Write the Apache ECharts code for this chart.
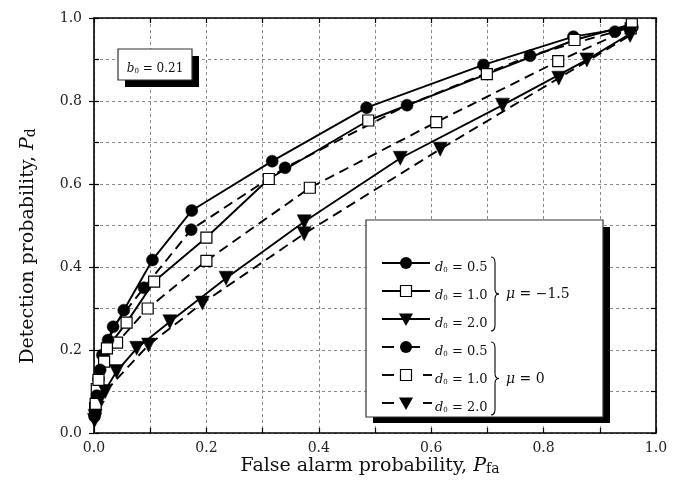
<!DOCTYPE html>
<html><head><meta charset="utf-8">
<script src="https://cdn.jsdelivr.net/npm/echarts@6/dist/echarts.min.js"></script>
<style>html,body{margin:0;padding:0;background:#fff}#c{width:686px;height:499px}</style>
</head><body><div id="c"></div>
<script>
// ---- data (Pfa, Pd) ----
const solidCircle = [[0.002,0.05],[0.005,0.09],[0.011,0.152],[0.025,0.224],[0.053,0.296],[0.104,0.417],[0.174,0.536],[0.317,0.655],[0.485,0.784],[0.693,0.887],[0.853,0.955],[0.955,0.978]];
const solidSquare = [[0.003,0.07],[0.008,0.128],[0.023,0.204],[0.058,0.266],[0.107,0.365],[0.200,0.471],[0.311,0.612],[0.488,0.753],[0.699,0.865],[0.855,0.947],[0.957,0.985]];
const solidTriangle = [[0.002,0.04],[0.012,0.085],[0.040,0.148],[0.076,0.204],[0.135,0.268],[0.235,0.373],[0.374,0.509],[0.545,0.662],[0.727,0.790],[0.877,0.899],[0.954,0.962]];
const dashCircle = [[0.001,0.04],[0.004,0.08],[0.008,0.13],[0.015,0.188],[0.034,0.256],[0.089,0.350],[0.173,0.490],[0.340,0.639],[0.557,0.790],[0.776,0.909],[0.927,0.967],[0.958,0.978]];
const dashSquare = [[0.002,0.06],[0.005,0.106],[0.018,0.172],[0.041,0.218],[0.0955,0.300],[0.200,0.415],[0.384,0.591],[0.609,0.749],[0.826,0.896],[0.955,0.975]];
const dashTriangle = [[0.001,0.03],[0.006,0.06],[0.020,0.10],[0.097,0.212],[0.193,0.313],[0.374,0.480],[0.616,0.684],[0.827,0.855],[0.954,0.958]];

const legendD0 = ['0.5','1.0','2.0','0.5','1.0','2.0'];
const legendSym = ['circle','rect','tri','circle','rect','tri'];
const legendDash = [false,false,false,true,true,true];
const muLabels = ['\u22121.5', '0'];
const b0Label = '0.21';
const xTitle = 'False alarm probability, ';
const yTitle = 'Detection probability, ';

const FONT = 'DejaVu Serif';
const DASH = [10,6];

function mk(name, data, sym, dashed){
  return {
    name, type:'line', data, xAxisIndex:0, yAxisIndex:0,
    symbol: sym === 'tri' ? 'triangle' : sym,
    symbolSize: sym === 'circle' ? 12 : (sym === 'rect' ? 11 : 14),
    symbolRotate: sym === 'tri' ? 180 : 0,
    showAllSymbol: true,
    lineStyle:{color:'#000', width:1.9, type: dashed ? DASH : 'solid'},
    itemStyle:{color: sym === 'rect' ? '#fff' : '#000', borderColor:'#000', borderWidth: sym==='rect'?1.2:0.5},
    emphasis:{disabled:true}, animation:false, z: 3
  };
}

const chart = echarts.init(document.getElementById('c'), null, {renderer:'canvas'});
const L = 94, T = 18, R = 656, B = 433;

const axisLineStyle = {color:'#000', width:1.6};
const split = {show:true, lineStyle:{color:'#8a8a8a', width:1, type:[3,3]}};

function braceParts(x0, top, bot){
  const mid = (top+bot)/2, w = 4, st = {stroke:'#000', lineWidth:1.1, fill:null};
  return [
    {type:'bezierCurve', shape:{x1:x0,y1:top,x2:x0+w,y2:top+6,cpx1:x0+w,cpy1:top}, style:st, z:103},
    {type:'line', shape:{x1:x0+w,y1:top+6,x2:x0+w,y2:mid-5}, style:st, z:103},
    {type:'bezierCurve', shape:{x1:x0+w,y1:mid-5,x2:x0+2*w,y2:mid,cpx1:x0+w,cpy1:mid}, style:st, z:103},
    {type:'bezierCurve', shape:{x1:x0+2*w,y1:mid,x2:x0+w,y2:mid+5,cpx1:x0+w,cpy1:mid}, style:st, z:103},
    {type:'line', shape:{x1:x0+w,y1:mid+5,x2:x0+w,y2:bot-6}, style:st, z:103},
    {type:'bezierCurve', shape:{x1:x0+w,y1:bot-6,x2:x0,y2:bot,cpx1:x0+w,cpy1:bot}, style:st, z:103}
  ];
}

function legendGraphics(){
  const g = [];
  g.push({type:'rect', shape:{x:373,y:227,width:237,height:196}, style:{fill:'#000'}, z:100});
  g.push({type:'rect', shape:{x:366,y:220,width:237,height:197}, style:{fill:'#fff', stroke:'#333', lineWidth:1.2}, z:101});
  const rows = [263,291,319,347,375,403];
  for(let i=0;i<6;i++){
    const y = rows[i], cx = 406;
    if(!legendDash[i]){
      g.push({type:'line', shape:{x1:382,y1:y,x2:430,y2:y}, style:{stroke:'#000', lineWidth:1.9}, z:102});
    } else {
      g.push({type:'line', shape:{x1:382,y1:y,x2:394,y2:y}, style:{stroke:'#000', lineWidth:1.9}, z:102});
      const s2 = legendSym[i]==='circle' ? 411 : 423;
      g.push({type:'line', shape:{x1:s2,y1:y,x2:s2+9,y2:y}, style:{stroke:'#000', lineWidth:1.9}, z:102});
    }
    if(legendSym[i]==='circle') g.push({type:'circle', shape:{cx, cy:y, r:6}, style:{fill:'#000'}, z:103});
    else if(legendSym[i]==='rect') g.push({type:'rect', shape:{x:cx-5.5,y:y-5.5,width:11,height:11}, style:{fill:'#fff', stroke:'#000', lineWidth:1.2}, z:103});
    else g.push({type:'polygon', shape:{points:[[cx-7,y-5.5],[cx+7,y-5.5],[cx,y+7]]}, style:{fill:'#000'}, z:103});
    g.push({type:'text', x:435, y:y, z:103, style:{
      text:'{i|d}{s|0}{r| = '+legendD0[i]+'}', verticalAlign:'middle', align:'left',
      rich:{ i:{fontFamily:FONT, fontStyle:'italic', fontSize:13, lineHeight:22, verticalAlign:'bottom', fill:'#111'},
             s:{fontFamily:FONT, fontSize:7, lineHeight:8, verticalAlign:'bottom', fill:'#111'},
             r:{fontFamily:FONT, fontSize:13, lineHeight:22, verticalAlign:'bottom', fill:'#111'} }
    }});
  }
  braceParts(491,257,331).forEach(e=>g.push(e));
  braceParts(491,342,415).forEach(e=>g.push(e));
  const muRich = {i:{fontFamily:FONT, fontStyle:'italic', fontSize:14, fill:'#111'}, r:{fontFamily:FONT, fontSize:14, fill:'#111'}};
  g.push({type:'text', x:506, y:294, z:103, style:{text:'{i|\u03bc}{r| = '+muLabels[0]+'}', verticalAlign:'middle', rich:muRich}});
  g.push({type:'text', x:506, y:379, z:103, style:{text:'{i|\u03bc}{r| = '+muLabels[1]+'}', verticalAlign:'middle', rich:muRich}});
  // b0 box
  g.push({type:'rect', shape:{x:125,y:56,width:74,height:31}, style:{fill:'#000'}, z:100});
  g.push({type:'rect', shape:{x:118,y:49,width:74,height:31}, style:{fill:'#fff', stroke:'#333', lineWidth:1.2}, z:101});
  g.push({type:'text', x:155, y:65, z:103, style:{
    text:'{i|b}{s|0}{r| = '+b0Label+'}', align:'center', verticalAlign:'middle',
    rich:{ i:{fontFamily:FONT, fontStyle:'italic', fontSize:12, lineHeight:20, verticalAlign:'bottom', fill:'#111'},
           s:{fontFamily:FONT, fontSize:7, lineHeight:8, verticalAlign:'bottom', fill:'#111'},
           r:{fontFamily:FONT, fontSize:12, lineHeight:20, verticalAlign:'bottom', fill:'#111'} }
  }});
  // axis titles
  g.push({type:'text', x:370, y:462, z:103, style:{
    text:'{r|'+xTitle+'}{i|P}{s|fa}', align:'center', verticalAlign:'middle',
    rich:{ r:{fontFamily:FONT, fontSize:19, lineHeight:28, verticalAlign:'bottom', fill:'#111'},
           i:{fontFamily:FONT, fontStyle:'italic', fontSize:19, lineHeight:28, verticalAlign:'bottom', fill:'#111'},
           s:{fontFamily:FONT, fontSize:14, lineHeight:13, verticalAlign:'bottom', fill:'#111'} }
  }});
  g.push({type:'text', x:24, y:246, rotation:Math.PI/2, z:103, style:{
    text:'{r|'+yTitle+'}{i|P}{s|d}', align:'center', verticalAlign:'middle',
    rich:{ r:{fontFamily:FONT, fontSize:19, lineHeight:28, verticalAlign:'bottom', fill:'#111'},
           i:{fontFamily:FONT, fontStyle:'italic', fontSize:19, lineHeight:28, verticalAlign:'bottom', fill:'#111'},
           s:{fontFamily:FONT, fontSize:14, lineHeight:13, verticalAlign:'bottom', fill:'#111'} }
  }});
  return g;
}

const lbl = {fontFamily:FONT, fontSize:14, color:'#222'};
const fmtEven = v => (Math.round(v*10) % 2 === 0) ? v.toFixed(1) : '';
const tickStyle = {color:'#000', width:1.2};

chart.setOption({
  animation:false,
  backgroundColor:'#fff',
  grid:{left:L, top:T, right:686-R, bottom:499-B, containLabel:false},
  xAxis:[
    {type:'value', position:'bottom', min:0, max:1, interval:0.1,
     axisLine:{show:true, onZero:false, lineStyle:axisLineStyle},
     axisTick:{show:true, inside:true, length:5, lineStyle:tickStyle},
     axisLabel:{...lbl, margin:8, formatter:fmtEven, showMaxLabel:true, showMinLabel:true},
     splitLine:split},
    {type:'value', position:'top', min:0, max:1, interval:0.1,
     axisLine:{show:true, onZero:false, lineStyle:axisLineStyle},
     axisTick:{show:true, inside:true, length:5, lineStyle:tickStyle},
     axisLabel:{show:false}, splitLine:{show:false}}
  ],
  yAxis:[
    {type:'value', position:'left', min:0, max:1, interval:0.1,
     axisLine:{show:true, onZero:false, lineStyle:axisLineStyle},
     axisTick:{show:true, inside:true, length:5, lineStyle:tickStyle},
     axisLabel:{...lbl, margin:12, formatter:fmtEven, showMaxLabel:true, showMinLabel:true},
     splitLine:split},
    {type:'value', position:'right', min:0, max:1, interval:0.1,
     axisLine:{show:true, onZero:false, lineStyle:axisLineStyle},
     axisTick:{show:true, inside:true, length:5, lineStyle:tickStyle},
     axisLabel:{show:false}, splitLine:{show:false}},
    {type:'value', position:'left', min:0, max:1, interval:0.2,
     axisLine:{show:false},
     axisTick:{show:true, inside:false, length:5, lineStyle:tickStyle},
     axisLabel:{show:false}, splitLine:{show:false}}
  ],
  series:[
    mk('dc', dashCircle, 'circle', true),
    mk('ds', dashSquare, 'rect', true),
    mk('dt', dashTriangle, 'tri', true),
    mk('sc', solidCircle, 'circle', false),
    mk('ss', solidSquare, 'rect', false),
    mk('st', solidTriangle, 'tri', false)
  ],
  graphic: legendGraphics()
});
</script></body></html>
